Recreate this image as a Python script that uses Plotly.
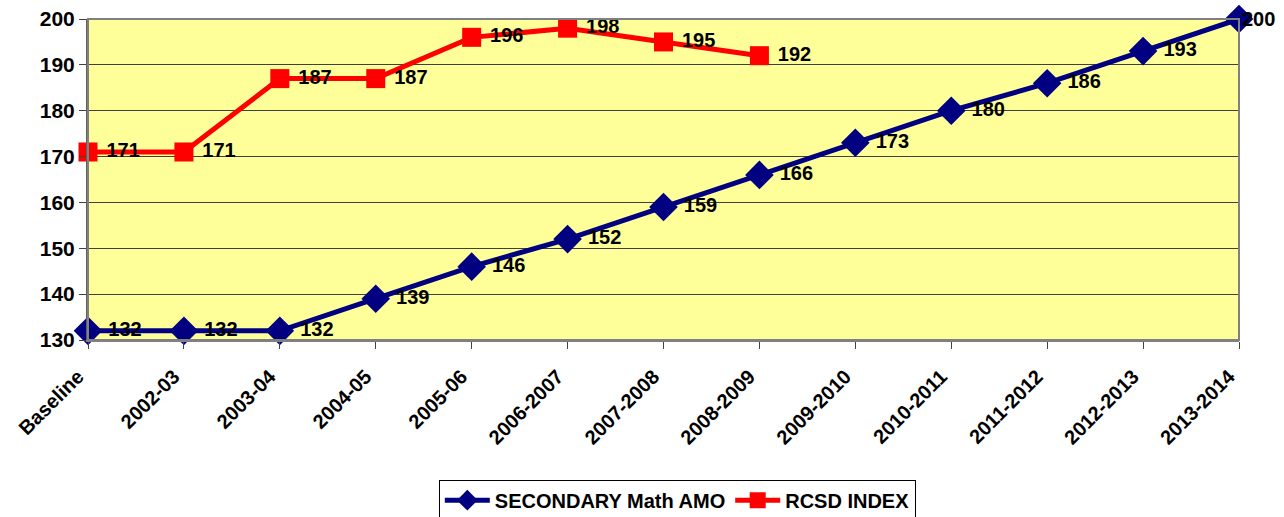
import plotly.graph_objects as go

categories = ["Baseline", "2002-03", "2003-04", "2004-05", "2005-06", "2006-2007",
              "2007-2008", "2008-2009", "2009-2010", "2010-2011", "2011-2012",
              "2012-2013", "2013-2014"]
amo_values = [132, 132, 132, 139, 146, 152, 159, 166, 173, 180, 186, 193, 200]
rcsd_categories = categories[:8]
rcsd_values = [171, 171, 187, 187, 196, 198, 195, 192]
y_ticks = [130, 140, 150, 160, 170, 180, 190, 200]

FONT = "Liberation Sans, Arial, sans-serif"
LABEL_FONT = dict(family=FONT, size=20, color="black", weight="bold")

amo_text = [" " + str(v) for v in amo_values]
amo_text[-1] = ""  # last label placed via annotation (near the right edge)

fig = go.Figure()
fig.add_trace(go.Scatter(
    x=categories, y=amo_values, name="SECONDARY Math AMO",
    mode="lines+markers+text",
    line=dict(color="#000080", width=5),
    marker=dict(symbol="diamond", size=22, color="#000080"),
    text=amo_text, textposition="middle right",
    textfont=LABEL_FONT,
    cliponaxis=False,
))
fig.add_trace(go.Scatter(
    x=rcsd_categories, y=rcsd_values, name="RCSD INDEX",
    mode="lines+markers+text",
    line=dict(color="#FF0000", width=5),
    marker=dict(symbol="square", size=19, color="#FF0000"),
    text=[" " + str(v) for v in rcsd_values], textposition="middle right",
    textfont=LABEL_FONT,
    cliponaxis=False,
))
fig.add_annotation(x=categories[-1], y=amo_values[-1], text=str(amo_values[-1]),
                   showarrow=False, xanchor="left", yanchor="middle", xshift=1,
                   font=LABEL_FONT)

fig.update_layout(
    width=1284, height=517,
    margin=dict(l=88, r=45, t=19, b=177, autoexpand=False),
    paper_bgcolor="white",
    plot_bgcolor="#FFFF99",
    font=dict(family=FONT, color="black"),
    showlegend=True,
    legend=dict(
        orientation="h", x=0.512, xanchor="center", y=-0.435, yanchor="top",
        bordercolor="black", borderwidth=1, itemwidth=45,
        font=dict(family=FONT, size=20, color="black", weight="bold"),
    ),
    xaxis=dict(
        type="category", range=[0, 12], tickangle=-45, automargin=False,
        tickfont=dict(family=FONT, size=20, color="black", weight="bold"),
        showgrid=False, showline=True, linecolor="#808080", linewidth=2,
        ticks="outside", ticklen=7, tickcolor="#404040",
        ticklabelstandoff=8, ticklabelshift=-10,
    ),
    yaxis=dict(
        range=[130, 200], tickvals=y_ticks, automargin=False,
        tickfont=dict(family=FONT, size=21, color="black", weight="bold"),
        showgrid=True, gridcolor="#404040", gridwidth=1,
        showline=True, linecolor="#606060", linewidth=2,
        ticks="outside", ticklen=7, tickcolor="#404040",
        zeroline=False,
    ),
)
fig.add_shape(type="rect", xref="paper", yref="paper", x0=0, y0=0, x1=1, y1=1,
              line=dict(color="#808080", width=2), layer="above")

fig.write_html("out.html", config={"displayModeBar": False},
               post_script="document.body.style.margin='0';document.body.style.overflow='hidden';")
